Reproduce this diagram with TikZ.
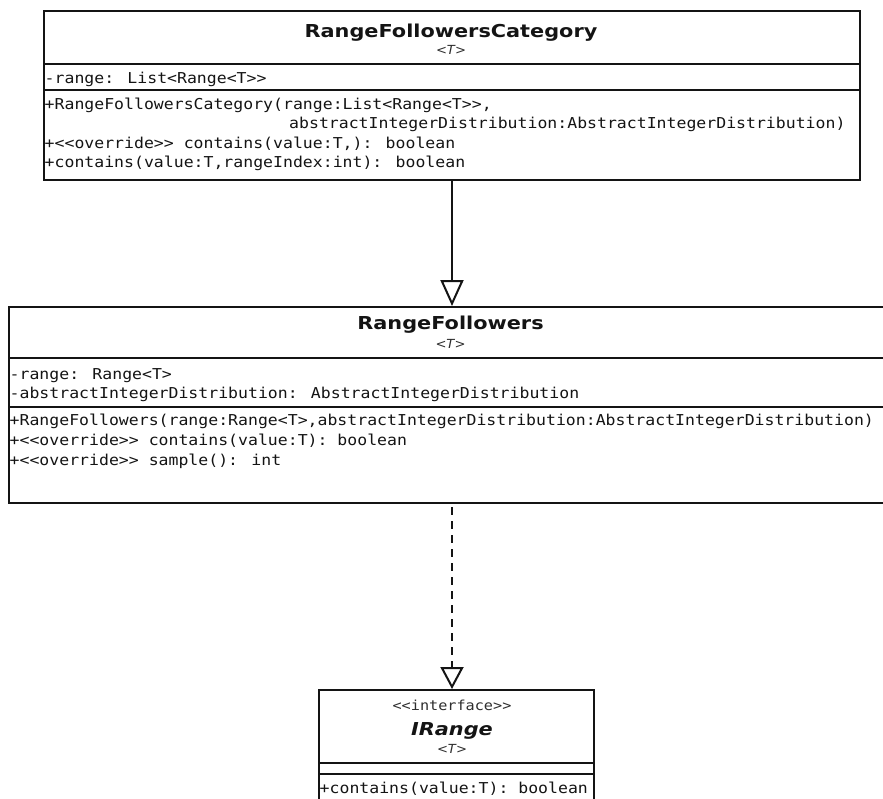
\documentclass[tikz,border=0pt]{standalone}
\usepackage{fontspec}
\usetikzlibrary{arrows.meta}

% fonts of the class boxes
\newfontfamily\memberfont[FakeStretch=1.1]{DejaVu Sans Mono}
\newfontfamily\titlefont[FakeStretch=1.17]{DejaVu Sans Bold}
\newfontfamily\ifacefont[FakeStretch=1.17]{DejaVu Sans Bold Oblique}
\newfontfamily\paramfont[FakeStretch=1.05]{DejaVu Sans Oblique}

% doubled angle brackets, kept apart so they are not merged into guillemets
\newcommand\ltlt{<\kern0pt<}
\newcommand\gtgt{>\kern0pt>}

\definecolor{ink}{HTML}{141414}
\definecolor{soft}{HTML}{2E2E2E}

\tikzset{
  umlbox/.style={draw=ink, line width=2pt, fill=white, inner sep=0pt,
                 anchor=north west},
  rule/.style={draw=ink, line width=2pt},
  classname/.style={anchor=base, inner sep=0pt, text=ink,
                    font=\titlefont\fontsize{17.8}{20}\selectfont},
  ifacename/.style={anchor=base, inner sep=0pt, text=ink,
                    font=\ifacefont\fontsize{17.8}{20}\selectfont},
  typeparam/.style={anchor=base, inner sep=0pt, text=soft,
                    font=\paramfont\fontsize{12.5}{14}\selectfont},
  stereo/.style={anchor=base, inner sep=0pt, text=soft,
                 font=\memberfont\fontsize{13.8}{16}\selectfont},
  member/.style={anchor=base west, inner sep=0pt, text=ink,
                 font=\memberfont\fontsize{15}{17}\selectfont},
  generalize/.style={draw=ink, line width=2pt,
                     -{Triangle[open, length=26pt, width=23pt]}},
  realize/.style={draw=ink, line width=2pt, dash pattern=on 8pt off 6pt,
                  -{Triangle[open, length=22pt, width=23pt]}},
}

\begin{document}
\begin{tikzpicture}[x=1pt, y=1pt]
\useasboundingbox (0,0) rectangle (883,-798);
\fill[white] (0,0) rectangle (883,-798);

% ---- RangeFollowersCategory ----
\node[umlbox, minimum width=816pt, minimum height=169pt] (cat) at (43,-10) {};
\node[classname] (catname) at (451,-37) {RangeFollowersCategory};
\node[typeparam] (catT) at (451,-54) {<T>};
\draw[rule] (cat.west |- 0,-63.5) -- (cat.east |- 0,-63.5);
\node[member] (catA1) at (44.5,-83) {-range: List<Range<T\gtgt};
\draw[rule] (cat.west |- 0,-90) -- (cat.east |- 0,-90);
\node[member] (catM1) at (44.5,-109) {+RangeFollowersCategory(range:List<Range<T\gtgt,};
\node[member] (catM1b) at (289,-128.5) {abstractIntegerDistribution:AbstractIntegerDistribution)};
\node[member] (catM2) at (44.5,-148) {+\ltlt override\gtgt\ contains(value:T,): boolean};
\node[member] (catM3) at (44.5,-167.5) {+contains(value:T,rangeIndex:int): boolean};

% ---- RangeFollowers ----
\node[umlbox, minimum width=885pt, minimum height=196pt] (rf) at (8,-306) {};
\node[classname] (rfname) at (450.5,-329) {RangeFollowers};
\node[typeparam] (rfT) at (450.5,-348) {<T>};
\draw[rule] (rf.west |- 0,-358) -- (rf.east |- 0,-358);
\node[member] (rfA1) at (9.5,-379) {-range: Range<T>};
\node[member] (rfA2) at (9.5,-398) {-abstractIntegerDistribution: AbstractIntegerDistribution};
\draw[rule] (rf.west |- 0,-407) -- (rf.east |- 0,-407);
\node[member] (rfM1) at (9.5,-425) {+RangeFollowers(range:Range<T>,abstractIntegerDistribution:AbstractIntegerDistribution)};
\node[member] (rfM2) at (9.5,-445) {+\ltlt override\gtgt\ contains(value:T): boolean};
\node[member] (rfM3) at (9.5,-465) {+\ltlt override\gtgt\ sample(): int};

% ---- IRange ----
\node[umlbox, minimum width=275pt, minimum height=125pt] (ir) at (318,-689) {};
\node[stereo] (irst) at (452,-710) {\ltlt interface\gtgt};
\node[ifacename] (irname) at (452,-735) {IRange};
\node[typeparam] (irT) at (452,-753) {<T>};
\draw[rule] (ir.west |- 0,-763) -- (ir.east |- 0,-763);
\draw[rule] (ir.west |- 0,-774) -- (ir.east |- 0,-774);
\node[member] (irM1) at (319.5,-793) {+contains(value:T): boolean};

% ---- relations ----
\draw[generalize] (cat.south) -- (cat.south |- rf.north);
\draw[realize, shorten <=3pt] (cat.south |- rf.south) -- (cat.south |- ir.north);
\end{tikzpicture}
\end{document}
